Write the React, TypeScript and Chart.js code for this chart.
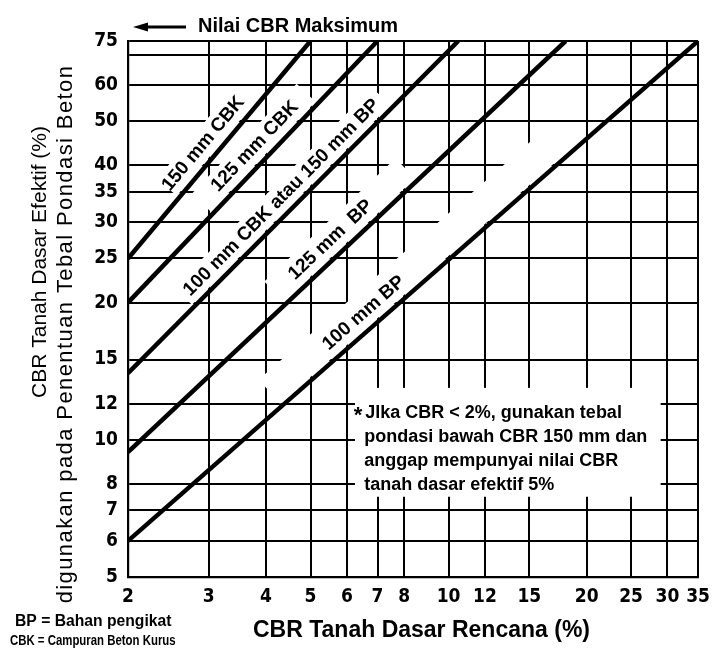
import { useEffect, useRef } from 'react';
import { Chart, registerables } from 'chart.js';

Chart.register(...registerables);

// ---- data ----
const xTicks = [2, 3, 4, 5, 6, 7, 8, 10, 12, 15, 20, 25, 30, 35];
const xTickLabels = ['2', '3', '4', '5', '6', '7', '8', '10', '12', '15', '20', '25', '30', '35'];
const yTicks = [5, 6, 7, 8, 10, 12, 15, 20, 25, 30, 35, 40, 50, 60, 70, 75];
const yTickLabels = ['5', '6', '7', '8', '10', '12', '15', '20', '25', '30', '35', '40', '50', '60', '', '75'];

const seriesNames = ['150 mm CBK', '125 mm CBK', '100 mm CBK atau 150 mm BP', '125 mm  BP', '100 mm BP'];
const startCBR = [2, 2, 2, 2, 2];
const startEff = [25, 20, 14, 9.4, 6];
const endCBR = [5, 7, 10.5, 18, 35];
const endEff = [75, 75, 75, 75, 75];

const noteLines = [
  'Jlka CBR < 2%, gunakan tebal',
  'pondasi bawah CBR 150 mm dan',
  'anggap mempunyai nilai CBR',
  'tanah dasar efektif 5%',
];

// ---- label / decoration placement (not data) ----
const labelT = [0.48, 0.555, 0.497, 0.488, 0.432];
const labelOffset = [16, 16, 15, 16, 16];
const corridorT0 = [0.28, 0.34, 0.2, 0.36, 0.27];
const corridorT1 = [0.7, 0.76, 0.8, 0.66, 0.78];
const corridorD0 = [3, 3, 3, 3, 3];
const corridorD1 = [29, 29, 28, 31, 35];
const noteBox = { x0: 6.25, x1: 29, y0: 7.5, y1: 13 };
const noteAnchor = { x: 6.55, y: 11.45 };

const SANS = '"Liberation Sans", Arial, sans-serif';
const TICKF = '"DejaVu Sans Condensed", "DejaVu Sans", sans-serif';

function lineFrame(chart: any, i: number) {
  const { x, y } = chart.scales;
  const x0 = x.getPixelForValue(startCBR[i]);
  const y0 = y.getPixelForValue(startEff[i]);
  const x1 = x.getPixelForValue(endCBR[i]);
  const y1 = y.getPixelForValue(endEff[i]);
  const dx = x1 - x0, dy = y1 - y0;
  const len = Math.hypot(dx, dy);
  const ux = dx / len, uy = dy / len;
  const nx = uy, ny = -ux; // up-left normal
  return { x0, y0, len, ux, uy, nx, ny, ang: Math.atan2(dy, dx) };
}

function narrowText(ctx: any, s: string, px: number, py: number, sx: number) {
  ctx.save();
  ctx.translate(px, py);
  ctx.scale(sx, 1);
  ctx.fillText(s, 0, 0);
  ctx.restore();
}

const annotPlugin = {
  id: 'annot',
  beforeDatasetsDraw(chart: any) {
    const { ctx, scales } = chart;
    const { x, y } = scales;
    ctx.save();
    ctx.fillStyle = '#fff';
    for (let i = 0; i < seriesNames.length; i++) {
      const f = lineFrame(chart, i);
      const pt = (t: number, d: number) => [f.x0 + f.ux * f.len * t + f.nx * d, f.y0 + f.uy * f.len * t + f.ny * d];
      const a = pt(corridorT0[i], corridorD0[i]);
      const b = pt(corridorT1[i], corridorD0[i]);
      const c = pt(corridorT1[i], corridorD1[i]);
      const d = pt(corridorT0[i], corridorD1[i]);
      ctx.beginPath();
      ctx.moveTo(a[0], a[1]);
      ctx.lineTo(b[0], b[1]);
      ctx.lineTo(c[0], c[1]);
      ctx.lineTo(d[0], d[1]);
      ctx.closePath();
      ctx.fill();
    }
    const bx0 = x.getPixelForValue(noteBox.x0);
    const bx1 = x.getPixelForValue(noteBox.x1);
    const by0 = y.getPixelForValue(noteBox.y1);
    const by1 = y.getPixelForValue(noteBox.y0);
    ctx.fillRect(bx0, by0, bx1 - bx0, by1 - by0);
    ctx.restore();
  },
  afterDatasetsDraw(chart: any) {
    const { ctx, scales } = chart;
    const { x, y } = scales;
    ctx.save();
    ctx.fillStyle = '#000';
    for (let i = 0; i < seriesNames.length; i++) {
      const f = lineFrame(chart, i);
      const cx = f.x0 + f.ux * f.len * labelT[i] + f.nx * labelOffset[i];
      const cy = f.y0 + f.uy * f.len * labelT[i] + f.ny * labelOffset[i];
      ctx.save();
      ctx.translate(cx, cy);
      ctx.rotate(f.ang);
      ctx.font = `bold 19px ${SANS}`;
      ctx.textAlign = 'center';
      ctx.textBaseline = 'middle';
      ctx.fillText(seriesNames[i], 0, 0);
      ctx.restore();
    }
    const nx = x.getPixelForValue(noteAnchor.x);
    const ny = y.getPixelForValue(noteAnchor.y);
    ctx.font = `bold 18px ${SANS}`;
    ctx.textAlign = 'left';
    ctx.textBaseline = 'middle';
    noteLines.forEach((s, k) => ctx.fillText(s, nx + (k === 0 ? 1 : 0), ny + k * 24));
    ctx.font = `bold 22px ${SANS}`;
    ctx.textAlign = 'right';
    ctx.fillText('*', nx - 2, ny + 3);
    ctx.restore();
  },
  afterDraw(chart: any) {
    const { ctx, chartArea } = chart;
    ctx.save();
    ctx.fillStyle = '#000';
    ctx.strokeStyle = '#000';
    const ay = 27;
    ctx.lineWidth = 3;
    ctx.beginPath();
    ctx.moveTo(chartArea.left + 16, ay);
    ctx.lineTo(chartArea.left + 58, ay);
    ctx.stroke();
    ctx.beginPath();
    ctx.moveTo(chartArea.left + 5, ay);
    ctx.lineTo(chartArea.left + 20, ay - 4.5);
    ctx.lineTo(chartArea.left + 20, ay + 4.5);
    ctx.closePath();
    ctx.fill();
    ctx.font = `bold 20px ${SANS}`;
    ctx.textAlign = 'left';
    ctx.textBaseline = 'middle';
    ctx.fillText('Nilai CBR Maksimum', chartArea.left + 70, ay - 1);

    ctx.font = `bold 23px ${SANS}`;
    ctx.textAlign = 'left';
    ctx.fillText('CBR Tanah Dasar Rencana (%)', 253, 631);

    ctx.save();
    ctx.translate(40, 262);
    ctx.rotate(-Math.PI / 2);
    ctx.font = `21px ${SANS}`;
    ctx.textAlign = 'center';
    ctx.fillText('CBR Tanah Dasar Efektif (%)', 0, 0);
    ctx.restore();
    ctx.save();
    ctx.translate(66, 334);
    ctx.rotate(-Math.PI / 2);
    ctx.font = `22px ${SANS}`;
    (ctx as any).letterSpacing = '1.4px';
    ctx.textAlign = 'center';
    ctx.fillText('digunakan pada Penentuan Tebal Pondasi Beton', 0, 0);
    ctx.restore();

    ctx.textAlign = 'left';
    ctx.font = `bold 16px ${SANS}`;
    narrowText(ctx, 'BP = Bahan pengikat', 15, 622, 0.98);
    ctx.font = `bold 15px ${SANS}`;
    narrowText(ctx, 'CBK = Campuran Beton Kurus', 10, 641, 0.76);
    ctx.restore();
  },
};

export default function App() {
  const ref = useRef<HTMLCanvasElement | null>(null);
  useEffect(() => {
    if (!ref.current) return;
    const datasets = seriesNames.map((name, i) => ({
      label: name,
      data: [
        { x: startCBR[i], y: startEff[i] },
        { x: endCBR[i], y: endEff[i] },
      ],
      borderColor: '#000',
      backgroundColor: '#000',
      borderWidth: 4.5,
      pointRadius: 0,
      fill: false,
      tension: 0,
    }));
    const chart = new Chart(ref.current, {
      type: 'line',
      data: { datasets },
      options: {
        animation: false,
        responsive: true,
        maintainAspectRatio: false,
        devicePixelRatio: 1,
        layout: { padding: { top: 41, right: 14, left: 0, bottom: 0 } },
        plugins: { legend: { display: false }, tooltip: { enabled: false }, title: { display: false } },
        scales: {
          x: {
            type: 'logarithmic',
            min: 2,
            max: 35,
            afterBuildTicks: (s: any) => {
              s.ticks = xTicks.map((v) => ({ value: v }));
            },
            afterFit: (s: any) => {
              s.height = 74;
            },
            ticks: {
              autoSkip: false,
              maxRotation: 0,
              color: '#000',
              padding: 9,
              font: { family: TICKF, size: 19, weight: 'bold' },
              callback: (_v: any, idx: number) => xTickLabels[idx],
            },
            grid: { color: '#000', lineWidth: 2, drawTicks: false },
            border: { display: true, color: '#000', width: 2.2 },
          },
          y: {
            type: 'logarithmic',
            min: 5,
            max: 75,
            afterBuildTicks: (s: any) => {
              s.ticks = yTicks.map((v) => ({ value: v }));
            },
            afterFit: (s: any) => {
              s.width = 128;
            },
            ticks: {
              autoSkip: false,
              color: '#000',
              padding: 10,
              font: { family: TICKF, size: 19, weight: 'bold' },
              callback: (_v: any, idx: number) => yTickLabels[idx],
            },
            grid: { color: '#000', lineWidth: 2, drawTicks: false },
            border: { display: true, color: '#000', width: 2.2 },
          },
        },
      },
      plugins: [annotPlugin],
    } as any);
    return () => chart.destroy();
  }, []);
  return (
    <div style={{ position: 'absolute', left: 0, top: 0, width: 719, height: 651, background: '#fff' }}>
      <canvas ref={ref} />
    </div>
  );
}
